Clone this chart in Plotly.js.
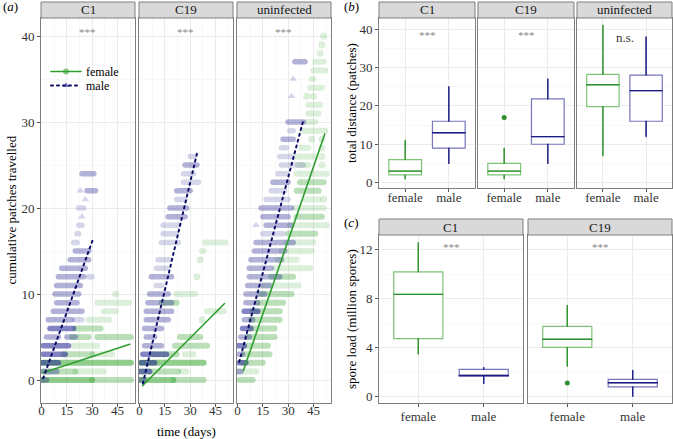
<!DOCTYPE html>
<html><head><meta charset="utf-8">
<script src="https://cdn.plot.ly/plotly-3.0.1.min.js"></script>
<style>
html,body{margin:0;padding:0;background:#fff;}
#chart{width:673px;height:439px;}
.js-line{stroke-linecap:round;}
</style></head><body><div id="chart"></div>
<script>
// ================= DATA =================
// (a) cumulative patches travelled: bands of points at one cumulative count over a run of days
// arrays: count level, first day, last day, point density (1 light .. 3 dense)
const facetsA = ['C1', 'C19', 'uninfected'];
const xTicksA = [0, 15, 30, 45];

const C1_female_y     = [0, 0, 1, 1, 2, 3, 3, 4, 5, 5, 6, 7, 8, 9, 10];
const C1_female_start = [0, 30, 1, 20, 1, 13, 30, 19, 18, 33, 20, 28, 37, 33, 44];
const C1_female_end   = [30, 53, 20, 37, 53, 30, 42, 33, 28, 53, 35, 40, 44, 52, 44];
const C1_female_dens  = [3, 2, 2, 1, 3, 2, 1, 1, 2, 2, 2, 1, 1, 1, 1];

const C1_male_y     = [0, 1, 2, 3, 4, 5, 5, 6, 7, 7, 8, 9, 10, 11, 12, 12, 13, 14, 15, 16, 17, 18, 19, 20, 21, 22, 22, 24];
const C1_male_start = [0, 1, 0, 1, 1, 3, 15, 5, 4, 20, 7, 9, 8, 9, 10, 28, 12, 17, 20, 19, 21, 22, 24, 22, 26, 23, 27, 24];
const C1_male_end   = [3, 9, 10, 14, 16, 10, 20, 19, 18, 24, 24, 21, 22, 23, 25, 30, 26, 28, 28, 21, 22, 24, 24, 25, 26, 23, 32, 31];
const C1_male_dens  = [2, 2, 3, 3, 3, 2, 2, 3, 2, 1, 2, 2, 2, 2, 2, 1, 2, 2, 2, 1, 1, 1, 1, 1, 1, 1, 2, 2];

const C19_female_y     = [0, 0, 1, 1, 2, 3, 3, 4, 5, 7, 8, 9, 10, 12, 14, 15, 16];
const C19_female_start = [0, 20, 1, 25, 1, 8, 27, 21, 24, 37, 40, 13, 22, 34, 36, 37, 39];
const C19_female_end   = [20, 38, 23, 28, 38, 22, 32, 40, 36, 37, 50, 22, 33, 34, 36, 38, 51];
const C19_female_dens  = [3, 2, 2, 1, 3, 2, 1, 2, 2, 1, 1, 2, 1, 1, 1, 1, 1];

const C19_male_y     = [0, 1, 2, 3, 4, 5, 6, 7, 8, 9, 10, 11, 12, 13, 14, 16, 17, 18, 19, 20, 21, 22, 23, 24, 25, 26];
const C19_male_start = [0, 0, 1, 2, 3, 4, 3, 4, 4, 5, 6, 10, 7, 10, 11, 13, 14, 14, 17, 18, 22, 22, 26, 26, 27, 30];
const C19_male_end   = [3, 6, 9, 16, 13, 9, 13, 17, 19, 19, 17, 13, 19, 16, 18, 23, 22, 23, 27, 28, 27, 30, 35, 32, 34, 32];
const C19_male_dens  = [2, 3, 3, 3, 2, 2, 2, 2, 2, 2, 2, 1, 2, 1, 1, 1, 1, 1, 2, 2, 1, 2, 1, 1, 2, 1];

const UN_female_y     = [0, 1, 2, 3, 4, 5, 6, 7, 8, 9, 10, 11, 12, 13, 14, 15, 16, 17, 18, 19, 20, 21, 21, 22, 23, 24, 25, 25, 26, 26, 27, 27, 28, 28, 29, 30, 31, 32, 33, 33, 34, 35, 36, 37, 38, 39, 40];
const UN_female_start = [1, 0, 3, 4, 5, 6, 8, 8, 9, 12, 14, 16, 20, 22, 24, 26, 29, 30, 31, 35, 34, 40, 51, 35, 37, 35, 36, 50, 35, 50, 38, 50, 44, 50, 39, 41, 42, 42, 41, 45, 43, 44, 45, 46, 49, 50, 51];
const UN_female_end   = [9, 11, 15, 19, 18, 22, 22, 25, 25, 27, 32, 36, 33, 43, 35, 44, 45, 46, 53, 50, 51, 48, 51, 48, 51, 53, 42, 50, 46, 50, 42, 50, 44, 50, 52, 46, 48, 49, 41, 45, 50, 45, 52, 51, 49, 50, 51];
const UN_female_dens  = [2, 1, 2, 2, 2, 2, 2, 2, 2, 2, 2, 1, 2, 1, 1, 1, 1, 2, 1, 2, 1, 1, 1, 2, 2, 1, 1, 1, 1, 1, 1, 1, 1, 1, 1, 1, 1, 1, 1, 1, 1, 1, 1, 1, 1, 1, 1];

const UN_male_y     = [1, 2, 3, 4, 5, 6, 7, 8, 9, 10, 11, 12, 13, 14, 15, 16, 17, 18, 18, 19, 20, 21, 22, 23, 24, 25, 26, 27, 28, 29, 30, 33, 35, 37];
const UN_male_start = [0, 1, 1, 0, 2, 3, 4, 4, 5, 5, 6, 7, 7, 8, 10, 11, 15, 11, 17, 15, 14, 17, 20, 21, 24, 26, 25, 26, 27, 31, 30, 32, 33, 34];
const UN_male_end   = [2, 5, 3, 4, 7, 8, 9, 12, 12, 16, 19, 25, 20, 26, 28, 33, 27, 11, 32, 30, 32, 30, 28, 30, 29, 39, 32, 29, 33, 33, 39, 32, 33, 40];
const UN_male_dens  = [2, 3, 2, 3, 2, 3, 2, 3, 2, 2, 2, 2, 2, 2, 2, 2, 1, 1, 2, 2, 2, 1, 1, 2, 1, 1, 1, 1, 2, 1, 2, 1, 1, 2];

// fitted lines (start/end day, start/end value) per facet
const fitFemaleX0 = [0.9, 1.8, 3.5],  fitFemaleY0 = [0.85, -0.66, 1.1];
const fitFemaleX1 = [52.3, 50.4, 51.7], fitFemaleY1 = [4.15, 8.9, 28.6];
const fitMaleX0 = [1, 2, 1],     fitMaleY0 = [0.2, -0.4, 2.1];
const fitMaleX1 = [30.7, 34, 39], fitMaleY1 = [16.5, 26.3, 30.2];
const sigA = ['***', '***', '***'];

// (b) total distance (patches): [female, male] per infection facet
const sexes = ['female', 'male'];
const facetsB = ['C1', 'C19', 'uninfected'];
const distLower = [[1, 5], [1, 5], [7, 12]];
const distQ1    = [[2, 9], [2, 10], [19.8, 16]];
const distMed   = [[3, 13], [3, 12], [25.5, 24]];
const distQ3    = [[6, 16], [5, 21.8], [28.2, 28]];
const distUpper = [[11, 25], [9, 27], [41, 38]];
const distOutFacet = ['C19'], distOutSex = ['female'], distOutVal = [17];
const sigB = ['***', '***', 'n.s.'];

// (c) spore load (million spores)
const facetsC = ['C1', 'C19'];
const sporeLower = [[3.5, 1.1], [2.5, 0.05]];
const sporeQ1    = [[4.75, 1.66], [4.03, 0.82]];
const sporeMed   = [[8.35, 1.75], [4.7, 1.15]];
const sporeQ3    = [[10.2, 2.24], [5.75, 1.42]];
const sporeUpper = [[12.57, 2.4], [7.45, 2.15]];
const sporeOutFacet = ['C19'], sporeOutSex = ['female'], sporeOutVal = [1.13];
const sigC = ['***', '***'];

// ================= STYLE / LAYOUT =================
const W = 673, H = 439;
const FONT = 'Liberation Serif';
const fx = p => p / W, fy = p => 1 - p / H;
const GREEN = '55,165,50', NAVY = '30,30,145';
const alphaLvl = {1: 0.18, 2: 0.34, 3: 0.55};

const A_dom = [[41, 135], [139, 233], [237, 331]], A_top = 18, A_bot = 403;
const B_dom = [[379, 475], [478, 574], [577, 672]], B_top = 18, B_bot = 188;
const C_dom = [[379, 523], [528, 672]], C_top = 235, C_bot = 403;
const STRIP = 16;

const axBase = {
  showline: true, mirror: true, linecolor: '#7f7f7f', linewidth: 1,
  showgrid: true, gridcolor: '#ebebeb', gridwidth: 1, zeroline: false,
  ticks: 'outside', ticklen: 3, tickcolor: '#555', tickwidth: 1,
  tickfont: {family: FONT, size: 13, color: '#333'}, fixedrange: true
};
const minorGrid = d => ({dtick: d, showgrid: true, gridcolor: '#f3f3f3', gridwidth: 0.6});

const layout = {
  width: W, height: H, margin: {l: 0, r: 0, t: 0, b: 0},
  paper_bgcolor: '#fff', plot_bgcolor: '#fff', boxmode: 'overlay',
  font: {family: FONT, size: 12, color: '#000'},
  shapes: [], annotations: [],
  legend: {x: fx(46), xanchor: 'left', y: fy(71.5), yanchor: 'middle', bgcolor: 'rgba(0,0,0,0)',
           font: {family: FONT, size: 12, color: '#000'}, itemwidth: 30},
  legend2: {x: fx(46), xanchor: 'left', y: fy(85.5), yanchor: 'middle', bgcolor: 'rgba(0,0,0,0)',
            font: {family: FONT, size: 12, color: '#000'}, itemwidth: 30}
};
const traces = [];
const axName = (p, n) => p + (n > 1 ? n : '');

function strip(l, r, top, label) {
  layout.shapes.push({type: 'rect', xref: 'paper', yref: 'paper', x0: fx(l), x1: fx(r),
    y0: fy(top), y1: fy(top - STRIP), fillcolor: '#d9d9d9', line: {color: '#7f7f7f', width: 1}, layer: 'above'});
  layout.annotations.push({xref: 'paper', yref: 'paper', x: fx((l + r) / 2), y: fy(top - STRIP / 2),
    text: label, showarrow: false, xanchor: 'center', yanchor: 'middle',
    font: {family: FONT, size: 13, color: '#1a1a1a'}});
}

function bandTraces(ys, s, e, d, sex, xa, ya) {
  const sym = sex === 'female' ? 'circle' : 'triangle-up';
  const rgb = sex === 'female' ? GREEN : NAVY;
  for (let lvl = 1; lvl <= 3; lvl++) {
    const lx = [], ly = [], px = [], py = [];
    for (let i = 0; i < ys.length; i++) {
      if (d[i] !== lvl) continue;
      if (s[i] === e[i]) { px.push(s[i]); py.push(ys[i]); }
      else { lx.push(s[i], e[i], null); ly.push(ys[i], ys[i], null); }
    }
    const col = 'rgba(' + rgb + ',' + alphaLvl[lvl] + ')';
    traces.push({type: 'scatter', mode: 'lines', x: lx, y: ly, connectgaps: false,
      line: {color: col, width: sex === 'female' ? 6 : 5.5}, hoverinfo: 'skip', showlegend: false, xaxis: xa, yaxis: ya});
    traces.push({type: 'scatter', mode: 'markers', x: px, y: py,
      marker: {symbol: sym, size: 7, color: col, line: {width: 0}}, hoverinfo: 'skip', showlegend: false, xaxis: xa, yaxis: ya});
  }
}

// ---------- panel (a) ----------
const bandsF = [[C1_female_y, C1_female_start, C1_female_end, C1_female_dens],
                [C19_female_y, C19_female_start, C19_female_end, C19_female_dens],
                [UN_female_y, UN_female_start, UN_female_end, UN_female_dens]];
const bandsM = [[C1_male_y, C1_male_start, C1_male_end, C1_male_dens],
                [C19_male_y, C19_male_start, C19_male_end, C19_male_dens],
                [UN_male_y, UN_male_start, UN_male_end, UN_male_dens]];
facetsA.forEach((f, i) => {
  const n = i + 1, xa = axName('x', n), ya = axName('y', n);
  const [l, r] = A_dom[i];
  layout[axName('xaxis', n)] = Object.assign({}, axBase, {domain: [fx(l), fx(r)], range: [-0.3, 55.4],
    tickmode: 'array', tickvals: xTicksA, minor: minorGrid(7.5), anchor: ya, ticklabelstandoff: -8});
  layout[axName('yaxis', n)] = Object.assign({}, axBase, {domain: [fy(A_bot), fy(A_top)], range: [-2.67, 42.1],
    tick0: 0, dtick: 10, minor: minorGrid(5), anchor: xa, showticklabels: i === 0, ticks: i === 0 ? 'outside' : ''});
  strip(l, r, A_top, f);
  bandTraces(...bandsF[i], 'female', xa, ya);
  bandTraces(...bandsM[i], 'male', xa, ya);
  traces.push({type: 'scatter', mode: 'lines', x: [fitFemaleX0[i], fitFemaleX1[i]], y: [fitFemaleY0[i], fitFemaleY1[i]],
    line: {color: '#2f9e2f', width: 1.6}, hoverinfo: 'skip', showlegend: false, xaxis: xa, yaxis: ya});
  traces.push({type: 'scatter', mode: 'lines', x: [fitMaleX0[i], fitMaleX1[i]], y: [fitMaleY0[i], fitMaleY1[i]],
    line: {color: '#0c0c66', width: 2, dash: '2px,4px'}, hoverinfo: 'skip', showlegend: false, xaxis: xa, yaxis: ya});
  layout.annotations.push({xref: xa, yref: ya, x: 27.5, y: 40.5, text: sigA[i], showarrow: false,
    xanchor: 'center', yanchor: 'middle', font: {family: FONT, size: 11, color: '#888'}});
});
// legend entries
traces.push({type: 'scatter', mode: 'lines+markers', x: [null], y: [null], name: 'female', legend: 'legend',
  line: {color: '#2f9e2f', width: 1.6}, marker: {symbol: 'circle', size: 6, color: 'rgba(' + GREEN + ',0.6)'}, xaxis: 'x', yaxis: 'y'});
traces.push({type: 'scatter', mode: 'lines+markers', x: [null], y: [null], name: 'male', legend: 'legend2',
  line: {color: '#0c0c66', width: 2, dash: '2px,4px'}, marker: {symbol: 'triangle-up', size: 6, color: 'rgba(' + NAVY + ',0.6)'}, xaxis: 'x', yaxis: 'y'});

// ---------- box helper ----------
const lightCol = ['rgb(125,195,118)', 'rgb(118,118,190)'];
const darkCol = ['#2e8f2e', '#1b1b80'];
function boxPanel(lower, q1, med, q3, upper, xa, ya) {
  sexes.forEach((s, j) => {
    const c = j + 1;
    traces.push({type: 'box', x: [c], q1: [q1[j]], median: [med[j]], q3: [q3[j]],
      lowerfence: [lower[j]], upperfence: [upper[j]], width: 0.75, whiskerwidth: 0, boxpoints: false,
      fillcolor: '#fff', line: {color: lightCol[j], width: 1.2}, hoverinfo: 'skip', showlegend: false, xaxis: xa, yaxis: ya});
    traces.push({type: 'scatter', mode: 'lines',
      x: [c, c, null, c, c, null, c - 0.375, c + 0.375],
      y: [q3[j], upper[j], null, lower[j], q1[j], null, med[j], med[j]],
      line: {color: darkCol[j], width: 1.3}, hoverinfo: 'skip', showlegend: false, xaxis: xa, yaxis: ya});
  });
}
const boxX = (l, r, ya, so) => Object.assign({}, axBase, {domain: [fx(l), fx(r)], range: [0.4, 2.6],
  tickmode: 'array', tickvals: [1, 2], ticktext: sexes, anchor: ya, ticklabelstandoff: so});

// ---------- panel (b) ----------
facetsB.forEach((f, i) => {
  const n = i + 4, xa = axName('x', n), ya = axName('y', n);
  const [l, r] = B_dom[i];
  layout[axName('xaxis', n)] = boxX(l, r, ya, -6);
  layout[axName('yaxis', n)] = Object.assign({}, axBase, {domain: [fy(B_bot), fy(B_top)], range: [-1.4, 42.9],
    tick0: 0, dtick: 10, minor: minorGrid(5), anchor: xa, showticklabels: i === 0, ticks: i === 0 ? 'outside' : ''});
  strip(l, r, B_top, f);
  boxPanel(distLower[i], distQ1[i], distMed[i], distQ3[i], distUpper[i], xa, ya);
  distOutFacet.forEach((of, k) => {
    if (of !== f) return;
    const j = sexes.indexOf(distOutSex[k]);
    traces.push({type: 'scatter', mode: 'markers', x: [j + 1], y: [distOutVal[k]],
      marker: {size: 5, color: darkCol[j]}, hoverinfo: 'skip', showlegend: false, xaxis: xa, yaxis: ya});
  });
  layout.annotations.push({xref: xa, yref: ya, x: 1.5, y: sigB[i] === 'n.s.' ? 37.9 : 38.4, text: sigB[i], showarrow: false,
    xanchor: 'center', yanchor: 'middle',
    font: {family: FONT, size: sigB[i] === 'n.s.' ? 13 : 11, color: sigB[i] === 'n.s.' ? '#333' : '#888'}});
});

// ---------- panel (c) ----------
facetsC.forEach((f, i) => {
  const n = i + 7, xa = axName('x', n), ya = axName('y', n);
  const [l, r] = C_dom[i];
  layout[axName('xaxis', n)] = boxX(l, r, ya, -2);
  layout[axName('yaxis', n)] = Object.assign({}, axBase, {domain: [fy(C_bot), fy(C_top)], range: [-0.5, 13.2],
    tick0: 0, dtick: 4, minor: minorGrid(2), anchor: xa, showticklabels: i === 0, ticks: i === 0 ? 'outside' : ''});
  strip(l, r, C_top, f);
  boxPanel(sporeLower[i], sporeQ1[i], sporeMed[i], sporeQ3[i], sporeUpper[i], xa, ya);
  sporeOutFacet.forEach((of, k) => {
    if (of !== f) return;
    const j = sexes.indexOf(sporeOutSex[k]);
    traces.push({type: 'scatter', mode: 'markers', x: [j + 1], y: [sporeOutVal[k]],
      marker: {size: 5, color: darkCol[j]}, hoverinfo: 'skip', showlegend: false, xaxis: xa, yaxis: ya});
  });
  layout.annotations.push({xref: xa, yref: ya, x: 1.5, y: 12.2, text: sigC[i], showarrow: false,
    xanchor: 'center', yanchor: 'middle', font: {family: FONT, size: 11, color: '#888'}});
});

// ---------- titles & panel letters ----------
const txt = (x, y, text, opts) => layout.annotations.push(Object.assign({xref: 'paper', yref: 'paper',
  x: fx(x), y: fy(y), text: text, showarrow: false, xanchor: 'center', yanchor: 'middle',
  font: {family: FONT, size: 13, color: '#000'}}, opts || {}));
txt(11, (A_top + A_bot) / 2, 'cumulative patches travelled', {textangle: -90});
txt(186, 431, 'time (days)');
txt(351, (B_top + B_bot) / 2, 'total distance (patches)', {textangle: -90});
txt(351, (C_top + C_bot) / 2, 'spore load (million spores)', {textangle: -90});
txt(1, 7, '(<i>a</i>)', {xanchor: 'left'});
txt(342, 7, '(<i>b</i>)', {xanchor: 'left'});
txt(342, 222, '(<i>c</i>)', {xanchor: 'left'});

Plotly.newPlot('chart', traces, layout, {staticPlot: true, displayModeBar: false});
</script></body></html>
